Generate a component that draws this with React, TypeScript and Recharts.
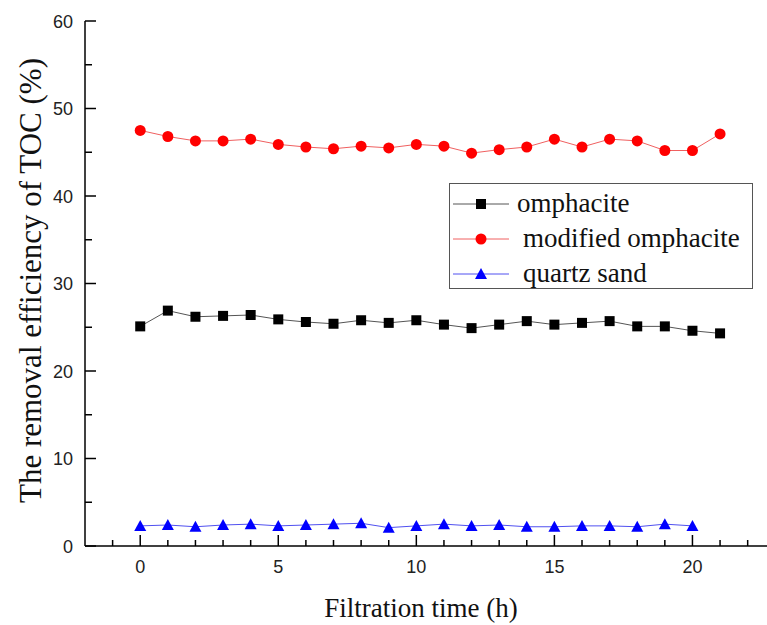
import { LineChart, Line, XAxis, YAxis, Label } from "recharts";

const hours = [0, 1, 2, 3, 4, 5, 6, 7, 8, 9, 10, 11, 12, 13, 14, 15, 16, 17, 18, 19, 20, 21];
const omphacite = [25.1, 26.9, 26.2, 26.3, 26.4, 25.9, 25.6, 25.4, 25.8, 25.5, 25.8, 25.3, 24.9, 25.3, 25.7, 25.3, 25.5, 25.7, 25.1, 25.1, 24.6, 24.3];
const modified = [47.5, 46.8, 46.3, 46.3, 46.5, 45.9, 45.6, 45.4, 45.7, 45.5, 45.9, 45.7, 44.9, 45.3, 45.6, 46.5, 45.6, 46.5, 46.3, 45.2, 45.2, 47.1];
const quartz = [2.3, 2.4, 2.2, 2.4, 2.5, 2.3, 2.4, 2.5, 2.6, 2.1, 2.3, 2.5, 2.3, 2.4, 2.2, 2.2, 2.3, 2.3, 2.2, 2.5, 2.3];

const xTicks = [-1, 0, 1, 2, 3, 4, 5, 6, 7, 8, 9, 10, 11, 12, 13, 14, 15, 16, 17, 18, 19, 20, 21, 22];
const yTicks = [0, 5, 10, 15, 20, 25, 30, 35, 40, 45, 50, 55, 60];

const data = hours.map((h, i) => ({
  h,
  omphacite: omphacite[i],
  modified: modified[i],
  quartz: i < quartz.length ? quartz[i] : null,
}));

const tickFont = "'Liberation Sans', Arial, sans-serif";
const serif = "'Liberation Serif', 'Times New Roman', serif";

const Square = (p: any) => (
  <rect key={p.key} x={p.cx - 5} y={p.cy - 5} width={10} height={10} fill="#000" />
);
const Circle = (p: any) => <circle key={p.key} cx={p.cx} cy={p.cy} r={5.5} fill="#ff0000" />;
const Triangle = (p: any) =>
  p.cy == null ? <g key={p.key} /> : (
    <polygon
      key={p.key}
      points={`${p.cx},${p.cy - 6} ${p.cx - 6},${p.cy + 5} ${p.cx + 6},${p.cy + 5}`}
      fill="#0000ff"
    />
  );

const XTick = ({ x, y, payload }: any) => {
  const major = payload.value % 5 === 0;
  return (
    <g>
      <line x1={x} x2={x} y1={y} y2={y - (major ? 11 : 6)} stroke="#000" strokeWidth={1.5} />
      {major && (
        <text x={x} y={y + 27} textAnchor="middle" fontSize={18} fontFamily={tickFont} fill="#222">
          {payload.value}
        </text>
      )}
    </g>
  );
};

const YTick = ({ x, y, payload }: any) => {
  const major = payload.value % 10 === 0;
  return (
    <g>
      <line x1={x} x2={x + (major ? 11 : 7)} y1={y} y2={y} stroke="#000" strokeWidth={1.5} />
      {major && (
        <text x={x - 12} y={y + 6.5} textAnchor="end" fontSize={18} fontFamily={tickFont} fill="#222">
          {payload.value}
        </text>
      )}
    </g>
  );
};

const legendItems = [
  { name: "omphacite", line: "#555", marker: "square", pad: 0 },
  { name: "modified omphacite", line: "#f06060", marker: "circle", pad: 6 },
  { name: "quartz sand", line: "#5050f0", marker: "triangle", pad: 6 },
];

const LegendBox = () => (
  <div
    style={{
      position: "absolute",
      left: 449,
      top: 183,
      width: 304,
      height: 106,
      border: "1px solid #555",
      background: "#fff",
      boxSizing: "border-box",
      paddingTop: 2,
    }}
  >
    {legendItems.map((it) => (
      <div key={it.name} style={{ display: "flex", alignItems: "center", height: 35 }}>
        <svg width={60} height={20} style={{ marginLeft: 3 }}>
          <line x1={0} x2={56} y1={10} y2={10} stroke={it.line} strokeWidth={1} />
          {it.marker === "square" && <rect x={23} y={5} width={10} height={10} fill="#000" />}
          {it.marker === "circle" && <circle cx={28} cy={10} r={5.5} fill="#ff0000" />}
          {it.marker === "triangle" && <polygon points="28,4 22,15 34,15" fill="#0000ff" />}
        </svg>
        <span
          style={{
            fontFamily: serif,
            fontSize: 27,
            color: "#111",
            marginLeft: 4 + it.pad,
            whiteSpace: "nowrap",
          }}
        >
          {it.name}
        </span>
      </div>
    ))}
  </div>
);

export default function App() {
  return (
    <div style={{ position: "absolute", left: 0, top: 0, width: 767, height: 625, background: "#fff" }}>
      <LineChart width={767} height={625} data={data} margin={{ top: 21, right: 0, left: 0, bottom: 0 }}>
        <XAxis
          dataKey="h"
          type="number"
          domain={[-2, 22.7]}
          ticks={xTicks}
          interval={0}
          allowDataOverflow
          height={79}
          tickSize={0}
          tickMargin={0}
          tick={<XTick />}
          axisLine={{ stroke: "#000", strokeWidth: 1.5 }}
          tickLine={false}
        >
          <Label
            value="Filtration time (h)"
            content={({ viewBox }: any) => (
              <text
                x={viewBox.x + viewBox.width / 2 - 5}
                y={viewBox.y + 71}
                textAnchor="middle"
                fontSize={27}
                fontFamily={serif}
                fill="#111"
              >
                Filtration time (h)
              </text>
            )}
          />
        </XAxis>
        <YAxis
          type="number"
          domain={[0, 60]}
          ticks={yTicks}
          interval={0}
          width={85}
          tickSize={0}
          tickMargin={0}
          tick={<YTick />}
          axisLine={{ stroke: "#000", strokeWidth: 1.5 }}
          tickLine={false}
        >
          <Label
            value="The removal efficiency of TOC (%)"
            content={({ viewBox }: any) => {
              const cx = 30;
              const cy = viewBox.y + viewBox.height / 2 - 3;
              return (
                <text
                  x={cx}
                  y={cy}
                  transform={`rotate(-90 ${cx} ${cy})`}
                  textAnchor="middle"
                  dominantBaseline="central"
                  fontSize={31}
                  fontFamily={serif}
                  fill="#111"
                >
                  The removal efficiency of TOC (%)
                </text>
              );
            }}
          />
        </YAxis>
        <Line
          dataKey="omphacite"
          name="omphacite"
          stroke="#555"
          strokeWidth={1}
          dot={Square}
          isAnimationActive={false}
        />
        <Line
          dataKey="modified"
          name="modified omphacite"
          stroke="#f06060"
          strokeWidth={1}
          dot={Circle}
          isAnimationActive={false}
        />
        <Line
          dataKey="quartz"
          name="quartz sand"
          stroke="#5050f0"
          strokeWidth={1}
          dot={Triangle}
          isAnimationActive={false}
        />
      </LineChart>
      <LegendBox />
    </div>
  );
}
